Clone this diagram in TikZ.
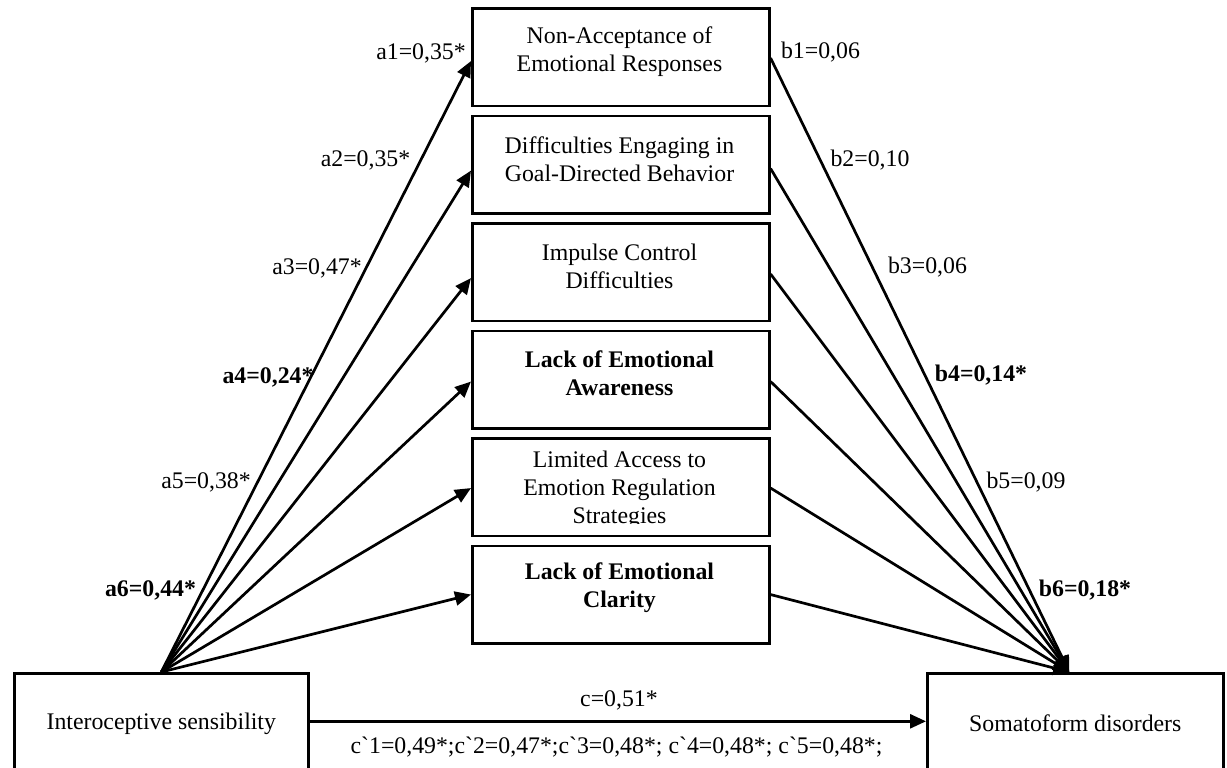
\documentclass[tikz,border=0pt]{standalone}
\usepackage{fontspec}
\setmainfont{Liberation Serif}
\usetikzlibrary{arrows.meta}
\newcommand{\bq}{\textasciigrave}
\begin{document}
\begin{tikzpicture}[x=0.5pt,y=-0.5pt,
  every node/.style={font=\fontsize{11.9}{14}\selectfont},
  boxm/.style={draw, line width=1.3pt, minimum width=148.5pt, minimum height=48.75pt, inner sep=0pt, anchor=north west},
  boxb/.style={draw, line width=1.3pt, minimum height=50pt, inner sep=0pt, anchor=north west},
  txt/.style={inner sep=0pt, align=center},
  lbl/.style={inner sep=0pt},
  bl/.style={inner sep=0pt, font=\fontsize{11.9}{14}\selectfont\bfseries},
  arr/.style={line width=1.35pt, -{Triangle[length=8pt,width=7pt]}}
]
\useasboundingbox (0,0) rectangle (1227,767);
\clip (0,0) rectangle (1227,767);

% middle boxes
\node[boxm] (m1) at (471,7) {};
\node[boxm] (m2) at (471,114.5) {};
\node[boxm] (m3) at (471,222) {};
\node[boxm] (m4) at (471,329.5) {};
\node[boxm] (m5) at (471,437) {};
\node[boxm] (m6) at (471,544.5) {};

\node[txt] (t1) at (619.5,52) {Non-Acceptance of\\Emotional Responses};
\node[txt] (t2) at (619.5,159.5) {Difficulties Engaging in\\Goal-Directed Behavior};
\node[txt] (t3) at (619.5,266.5) {Impulse Control\\Difficulties};
\node[txt,font=\fontsize{11.9}{14}\selectfont\bfseries] (t4) at (619.5,373) {Lack of Emotional\\Awareness};
\begin{scope}
\clip (471,437) rectangle (768,523.5);
\node[txt] (t5) at (619.5,489.5) {Limited Access to\\Emotion Regulation\\Strategies};
\end{scope}
\node[txt,font=\fontsize{11.9}{14}\selectfont\bfseries] (t6) at (619.5,588) {Lack of Emotional\\Clarity};

% bottom boxes
\node[boxb, minimum width=147pt] (ib) at (13,672) {Interoceptive sensibility};
\node[boxb, minimum width=148pt] (sb) at (926,672) {Somatoform disorders};
\coordinate (R) at ([xshift=-3pt]sb.north);

% left fan
\draw[arr] (ib.north) -- ([yshift=-2pt]m1.west);
\draw[arr] (ib.north) -- ([yshift=-3pt]m2.west);
\draw[arr] (ib.north) -- ([yshift=-3pt]m3.west);
\draw[arr] (ib.north) -- ([yshift=-1pt]m4.west);
\draw[arr] (ib.north) -- ([yshift=-0.5pt]m5.west);
\draw[arr] (ib.north) -- (m6.west);

% right fan
\draw[arr] ([yshift=-0.5pt]m1.east) -- (R);
\draw[arr] ([yshift=-2pt]m2.east) -- (R);
\draw[arr] ([yshift=-1pt]m3.east) -- (R);
\draw[arr] ([yshift=-1pt]m4.east) -- (R);
\draw[arr] ([yshift=-0.5pt]m5.east) -- (R);
\draw[arr] (m6.east) -- (R);

% direct path
\draw[arr] ([yshift=1pt]ib.east) -- ([yshift=1pt]sb.west);

% labels
\node[lbl] (la1) at (421,53) {a1=0,35*};
\node[lbl] (la2) at (365.5,160) {a2=0,35*};
\node[lbl] (la3) at (317,268) {a3=0,47*};
\node[bl] (la4) at (268,377) {a4=0,24*};
\node[lbl] (la5) at (206,482) {a5=0,38*};
\node[bl] (la6) at (150.5,590) {a6=0,44*};
\node[lbl] (lb1) at (820.5,52) {b1=0,06};
\node[lbl] (lb2) at (870,160) {b2=0,10};
\node[lbl] (lb3) at (927.5,267) {b3=0,06};
\node[bl] (lb4) at (981,375) {b4=0,14*};
\node[lbl] (lb5) at (1026,482) {b5=0,09};
\node[bl] (lb6) at (1085,590) {b6=0,18*};
\node[lbl] (lc) at (619,700) {c=0,51*};
\node[lbl] (lcp) at (616.5,747) {c\bq1=0,49*;c\bq2=0,47*;c\bq3=0,48*; c\bq4=0,48*; c\bq5=0,48*;};
\end{tikzpicture}
\end{document}
